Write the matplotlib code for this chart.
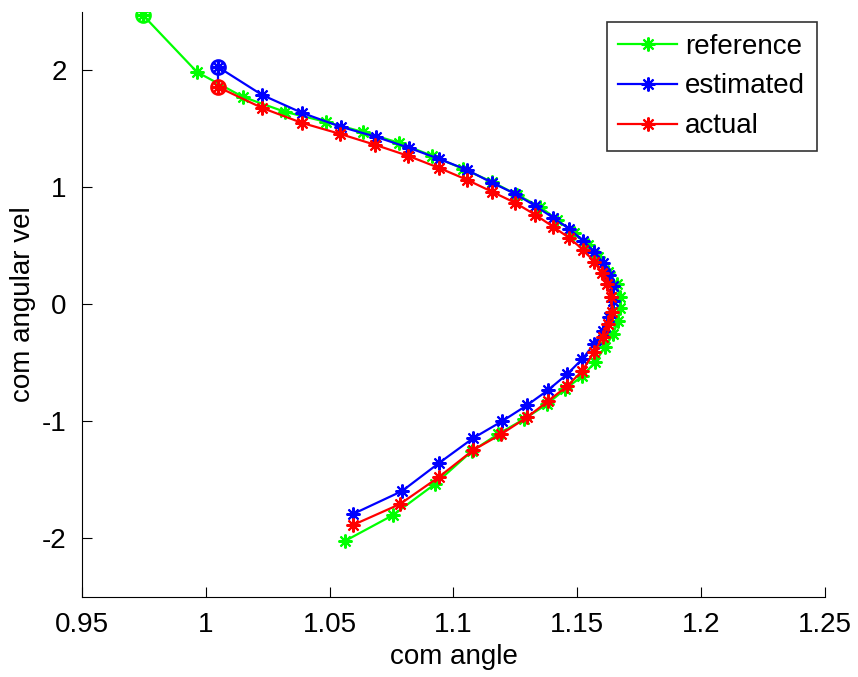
import matplotlib
matplotlib.use("Agg")
import matplotlib.pyplot as plt

# com angle / com angular vel trajectories
ref_angle = [0.9746, 0.9964, 1.0150, 1.0320, 1.0485, 1.0634, 1.0780, 1.0913, 1.1038,
             1.1155, 1.1256, 1.1349, 1.1418, 1.1486, 1.1543, 1.1583, 1.1624, 1.1660,
             1.1672, 1.1672, 1.1664, 1.1644, 1.1611, 1.1571, 1.1519, 1.1450, 1.1377,
             1.1284, 1.1179, 1.1074, 1.0925, 1.0756, 1.0562]
ref_vel = [2.473, 1.987, 1.774, 1.646, 1.561, 1.475, 1.382, 1.271, 1.160,
           1.049, 0.938, 0.836, 0.725, 0.614, 0.512, 0.409, 0.281, 0.171,
           0.060, -0.026, -0.145, -0.256, -0.367, -0.495, -0.614, -0.725, -0.853,
           -0.981, -1.109, -1.254, -1.535, -1.800, -2.021]

est_angle = [1.0049, 1.0227, 1.0388, 1.0546, 1.0687, 1.0820, 1.0941, 1.1054, 1.1155,
             1.1248, 1.1329, 1.1402, 1.1466, 1.1523, 1.1567, 1.1603, 1.1628, 1.1644,
             1.1644, 1.1628, 1.1603, 1.1567, 1.1519, 1.1458, 1.1381, 1.1297, 1.1196,
             1.1079, 1.0941, 1.0792, 1.0594]
est_vel = [2.030, 1.791, 1.638, 1.518, 1.433, 1.339, 1.245, 1.151, 1.041,
           0.947, 0.844, 0.742, 0.648, 0.546, 0.452, 0.358, 0.256, 0.154,
           0.034, -0.111, -0.230, -0.341, -0.469, -0.597, -0.733, -0.861, -0.998,
           -1.143, -1.356, -1.595, -1.791]

act_angle = [1.0049, 1.0227, 1.0388, 1.0542, 1.0683, 1.0816, 1.0941, 1.1054, 1.1155,
             1.1248, 1.1329, 1.1402, 1.1466, 1.1523, 1.1567, 1.1599, 1.1620, 1.1636,
             1.1640, 1.1624, 1.1603, 1.1567, 1.1519, 1.1458, 1.1381, 1.1297, 1.1192,
             1.1079, 1.0941, 1.0784, 1.0594]
act_vel = [1.859, 1.680, 1.552, 1.458, 1.365, 1.271, 1.168, 1.066, 0.964,
           0.870, 0.768, 0.665, 0.571, 0.469, 0.367, 0.273, 0.171, 0.060,
           -0.060, -0.171, -0.281, -0.409, -0.571, -0.699, -0.827, -0.964, -1.109,
           -1.245, -1.475, -1.706, -1.885]

x_ticks = [0.95, 1.0, 1.05, 1.1, 1.15, 1.2, 1.25]
x_tick_labels = ['0.95', '1', '1.05', '1.1', '1.15', '1.2', '1.25']
y_ticks = [-2, -1, 0, 1, 2]
y_tick_labels = ['-2', '-1', '0', '1', '2']

plt.rcParams['font.family'] = ['Liberation Sans', 'DejaVu Sans']

fig = plt.figure(figsize=(8.58, 6.77), dpi=100)
ax = fig.add_axes([0.0956, 0.1182, 0.8659, 0.8641])

star = (8, 2, 0)
series = [
    (ref_angle, ref_vel, '#00ff00', 'reference'),
    (est_angle, est_vel, '#0000ff', 'estimated'),
    (act_angle, act_vel, '#ff0000', 'actual'),
]

# first estimate starts from the actual state
ax.plot([est_angle[0], act_angle[0]], [est_vel[0], act_vel[0]], color='#0000ff', lw=1.6)

for xs, ys, c, name in series:
    ax.plot(xs, ys, color=c, lw=1.6, marker=star, ms=10, mew=1.5, label=name)
    ax.plot(xs[0], ys[0], color=c, marker='o', ms=10, mfc='none', mew=2.0, ls='none')

ax.set_xlim(0.95, 1.25)
ax.set_ylim(-2.5, 2.5)
ax.set_xticks(x_ticks)
ax.set_xticklabels(x_tick_labels)
ax.set_yticks(y_ticks)
ax.set_yticklabels(y_tick_labels)
ax.tick_params(direction='in', length=7, labelsize=20, width=0.8, pad=11)
ax.spines['top'].set_visible(False)
ax.spines['right'].set_visible(False)

ax.set_xlabel('com angle', fontsize=20, labelpad=4)
ax.set_ylabel('com angular vel', fontsize=20, labelpad=4)

leg = ax.legend(loc='upper right', bbox_to_anchor=(0.989, 0.983), borderaxespad=0,
                fontsize=20, frameon=True, fancybox=False, edgecolor='black',
                handlelength=2.1, handletextpad=0.3, borderpad=0.42, labelspacing=0.5)
leg.get_frame().set_linewidth(1.2)

fig.savefig('out.png', dpi=100)
